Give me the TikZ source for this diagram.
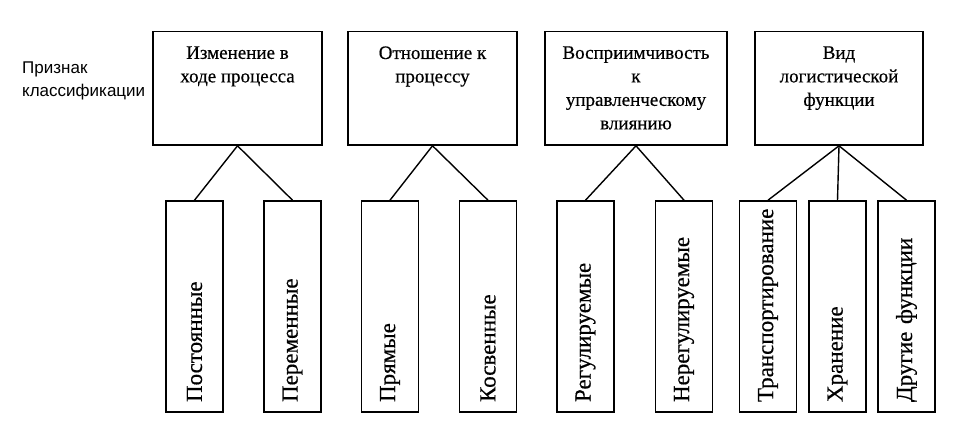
\documentclass[tikz,border=0pt]{standalone}
\usepackage{fontspec}
\setmainfont{Liberation Serif}
\newfontfamily\boxfont{Liberation Serif}[FakeBold=0.5]
\newfontfamily\sansfont{Liberation Sans}
\usetikzlibrary{positioning}

\tikzset{
  group/.style={draw, line width=1.6pt, minimum height=113.5pt, inner sep=0pt},
  grouptext/.style={anchor=north, yshift=-15.5pt, inner sep=0pt, align=center,
    font=\boxfont\fontsize{19}{23.5}\selectfont},
  kind/.style={draw, line width=1.6pt, rotate=90, minimum height=57pt,
    text width=191pt, inner xsep=10pt, inner ysep=0pt, align=left,
    font=\boxfont\fontsize{23}{27}\selectfont},
  link/.style={line width=1.4pt}
}

\begin{document}
\begin{tikzpicture}[x=1pt, y=-1pt]
    \useasboundingbox (0,0) rectangle (974,429);

    % classification label
    \node [anchor=north west, inner sep=0pt, align=left,
           font=\sansfont\fontsize{17}{23}\selectfont] (title) at (22,62)
          {Признак\\классификации};

    % classification features
    \node [group, minimum width=169pt,
           label={[grouptext]north:Изменение в\\ходе процесса}] (change) at (237.5,88.25) {};
    \node [group, minimum width=169pt,
           label={[grouptext]north:Отношение к\\процессу}] (relation) at (432.5,88.25) {};
    \node [group, minimum width=182pt,
           label={[grouptext]north:Восприимчивость\\к\\управленческому\\влиянию}] (response) at (636,88.25) {};
    \node [group, minimum width=168pt,
           label={[grouptext]north:Вид\\логистической\\функции}] (function) at (839,88.25) {};

    % kinds of flows
    \node [kind] (constant)    at (194.5,306.5) {Постоянные};
    \node [kind] (variable)    at (292.5,306.5) {Переменные};
    \node [kind] (direct)      at (390,306.5)   {Прямые};
    \node [kind] (indirect)    at (488,306.5)   {Косвенные};
    \node [kind] (regulated)   at (585.5,306.5) {Регулируемые};
    \node [kind] (unregulated) at (684,306.5)   {Нерегулируемые};
    \node [kind] (transport)   at (768,306.5)   {Транспортирование};
    \node [kind] (storage)     at (837.5,306.5) {Хранение};
    \node [kind] (other)       at (906.5,306.5) {Другие функции};

    % connectors
    \foreach \from/\to in {change/constant, change/variable,
                           relation/direct, relation/indirect,
                           response/regulated, response/unregulated,
                           function/transport, function/storage, function/other}
      \draw [link] (\from.south) -- (\to.east);
\end{tikzpicture}
\end{document}
